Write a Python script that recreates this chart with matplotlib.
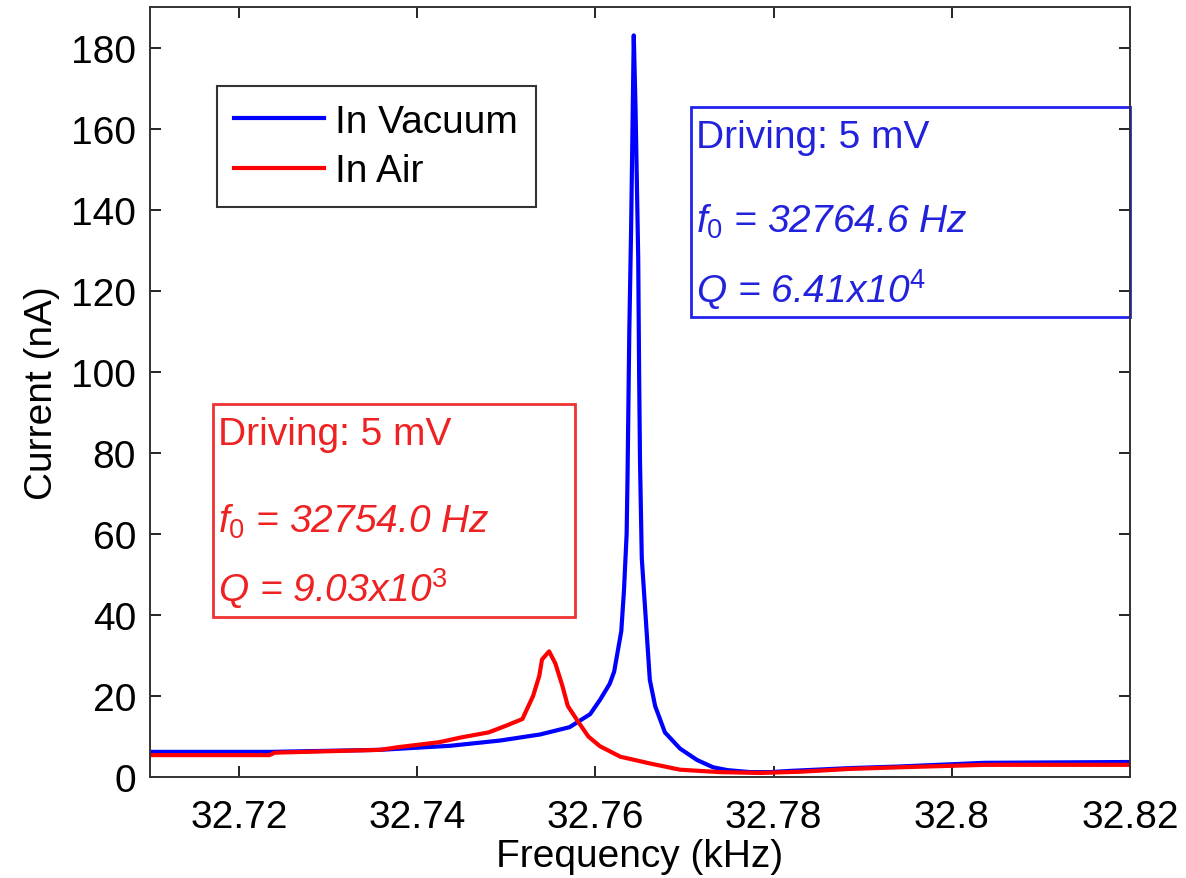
import matplotlib
matplotlib.use("Agg")
import matplotlib.pyplot as plt
from matplotlib.patches import Rectangle

plt.rcParams['font.family'] = ['Liberation Sans', 'DejaVu Sans']
plt.rcParams['mathtext.fontset'] = 'custom'
plt.rcParams['mathtext.rm'] = 'Liberation Sans'
plt.rcParams['mathtext.it'] = 'Liberation Sans:italic'

# ---- data (kHz, nA) ----
vac_freq = [32.7100, 32.7235, 32.7358, 32.7437, 32.7493, 32.7538, 32.7571,
            32.7594, 32.7605, 32.7616, 32.7621, 32.7625, 32.7629, 32.7632,
            32.7635, 32.7636, 32.7638, 32.7640, 32.7643, 32.7645, 32.7648,
            32.7649, 32.7650, 32.7652, 32.7655, 32.7658, 32.7661, 32.7667,
            32.7678, 32.7695, 32.7714, 32.7732, 32.7748, 32.7774, 32.7796,
            32.7818, 32.7886, 32.7942, 32.8037, 32.8200]
vac_curr = [6.2, 6.2, 6.7, 7.7, 9.0, 10.5, 12.3,
            15.5, 19.0, 23.0, 26.0, 31.0, 36.0, 46.0,
            60.0, 74.0, 110.0, 135.0, 183.0, 165.0, 128.0,
            100.0, 78.0, 54.0, 44.0, 34.0, 24.0, 17.5,
            11.0, 7.0, 4.2, 2.4, 1.7, 1.2, 1.2,
            1.5, 2.2, 2.6, 3.5, 3.7]

air_freq = [32.7100, 32.7234, 32.7240, 32.7358, 32.7380, 32.7425, 32.7450,
            32.7480, 32.7499, 32.7518, 32.7530, 32.7537, 32.7540, 32.7548,
            32.7555, 32.7563, 32.7569, 32.7581, 32.7592, 32.7605, 32.7628,
            32.7662, 32.7695, 32.7740, 32.7785, 32.7830, 32.7886, 32.7942,
            32.8037, 32.8200]
air_curr = [5.4, 5.4, 6.0, 6.7, 7.4, 8.6, 9.8,
            11.0, 12.6, 14.3, 20.0, 25.0, 29.0, 31.0,
            28.0, 22.4, 17.5, 13.5, 10.0, 7.6, 5.0,
            3.3, 1.8, 1.2, 1.0, 1.3, 2.0, 2.4,
            3.0, 3.0]

x_ticks = [32.72, 32.74, 32.76, 32.78, 32.80, 32.82]
x_tick_labels = ['32.72', '32.74', '32.76', '32.78', '32.8', '32.82']
y_ticks = [0, 20, 40, 60, 80, 100, 120, 140, 160, 180]

FS = 28

fig = plt.figure(figsize=(11.86, 8.79), dpi=100)
ax = fig.add_axes([150/1186, 1 - 778/879, 980/1186, 770/879])

ax.plot(vac_freq, vac_curr, color='#0000ff', lw=3.0, label='In Vacuum')
ax.plot(air_freq, air_curr, color='#ff0000', lw=3.0, label='In Air')

ax.set_xlim(32.71, 32.82)
ax.set_ylim(0, 190)
ax.set_xticks(x_ticks)
ax.set_xticklabels(x_tick_labels)
ax.set_yticks(y_ticks)
ax.tick_params(axis='both', direction='in', length=8, width=1.2, labelsize=FS,
               top=True, right=True)
ax.tick_params(axis='x', pad=16)
ax.tick_params(axis='y', pad=10)
for s in ax.spines.values():
    s.set_linewidth(1.4)
    s.set_color('#333333')

ax.set_xlabel('Frequency (kHz)', fontsize=FS, labelpad=2)
ax.set_ylabel('Current (nA)', fontsize=FS, labelpad=8)

leg = ax.legend(loc='upper left', bbox_to_anchor=(0.068, 0.897), fontsize=FS,
                frameon=True, fancybox=False, edgecolor='black',
                borderaxespad=0, handlelength=2.3, handletextpad=0.3,
                labelspacing=0.35, borderpad=0.45)
leg.get_frame().set_linewidth(1.5)

# annotation boxes
ax.add_patch(Rectangle((0.552, 0.597), 0.448, 0.273, transform=ax.transAxes,
                       fill=False, edgecolor='#2222ee', lw=2, clip_on=False))
ax.add_patch(Rectangle((0.064, 0.208), 0.370, 0.276, transform=ax.transAxes,
                       fill=False, edgecolor='#ee3333', lw=2, clip_on=False))

bc = '#2222dd'
rc = '#ee2222'
ax.text(0.557, 0.818, 'Driving: 5 mV', color=bc, fontsize=FS,
        transform=ax.transAxes, va='baseline')
ax.text(0.557, 0.708, r'$f_0$ = 32764.6 Hz', color=bc, fontsize=FS,
        style='italic', transform=ax.transAxes, va='baseline')
ax.text(0.557, 0.617, r'Q = 6.41x10$^{4}$', color=bc, fontsize=FS,
        style='italic', transform=ax.transAxes, va='baseline')

ax.text(0.069, 0.432, 'Driving: 5 mV', color=rc, fontsize=FS,
        transform=ax.transAxes, va='baseline')
ax.text(0.069, 0.319, r'$f_0$ = 32754.0 Hz', color=rc, fontsize=FS,
        style='italic', transform=ax.transAxes, va='baseline')
ax.text(0.069, 0.229, r'Q = 9.03x10$^{3}$', color=rc, fontsize=FS,
        style='italic', transform=ax.transAxes, va='baseline')

fig.savefig('out.png', dpi=100)
